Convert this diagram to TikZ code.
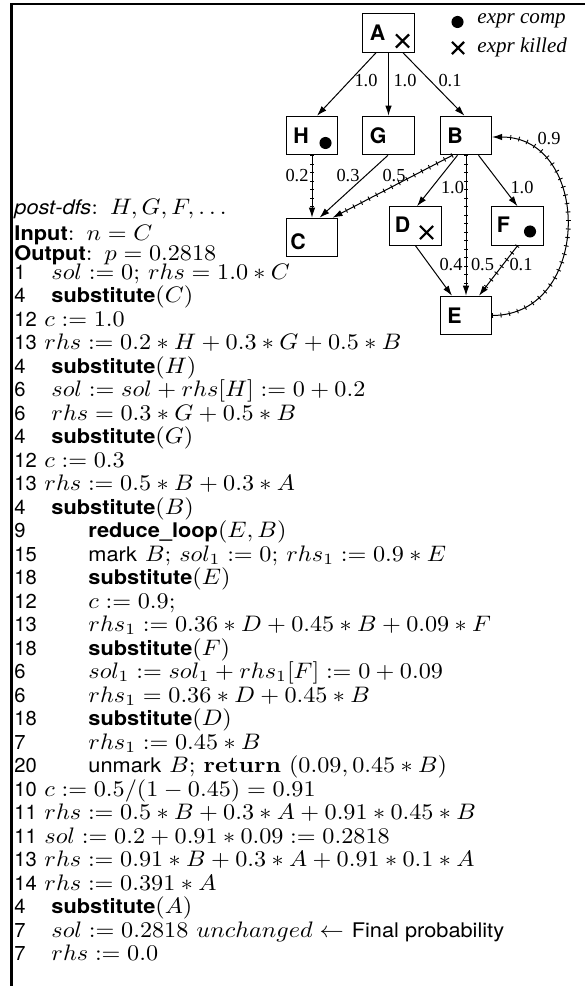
\documentclass[tikz,border=0pt]{standalone}
\usepackage{fontspec}
\usepackage{graphicx}
\setsansfont{TeX Gyre Heros}[Scale=0.9]
\newfontfamily\timesf{Liberation Serif}
\usetikzlibrary{arrows.meta,calc,shapes.misc}
\newcommand{\wx}[1]{\scalebox{1.08}[1]{#1}}
\begin{document}
\begin{tikzpicture}[x=0.4464pt,y=-0.4464pt,
  box/.style={draw, line width=0.45pt, minimum width=22.8pt, minimum height=17.2pt, inner sep=0pt},
  nlab/.style={font=\fontsize{10.6}{12}\selectfont\sffamily\bfseries, inner sep=0pt, anchor=west},
  elab/.style={font=\timesf\fontsize{8.2}{10}\selectfont, inner sep=0pt},
  leg/.style={font=\timesf\itshape\fontsize{9.4}{11}\selectfont, inner sep=0pt, anchor=west},
  arr/.style={line width=0.45pt, -{Latex[length=4.5pt,width=2.9pt]}},
  hatch/.style={arr, postaction={draw, -, line width=2.1pt, dash pattern=on 0.4pt off 3.4pt, shorten >=5pt}},
  kill/.style={cross out, draw, line width=0.95pt, inner sep=0pt, minimum size=4.9pt},
  comp/.style={circle, fill, inner sep=0pt, minimum size=5.4pt},
  tl/.style={anchor=base west, inner sep=0pt, font=\fontsize{10}{12}\selectfont},
]
\useasboundingbox (0,0) rectangle (585,986);
% frame
\draw[line width=0.9pt] (11.5,986) -- (11.5,4) -- (585,4);

% graph nodes
\node[box] (A) at (388.5,33) {};
\node[box] (H) at (312,135.5) {};
\node[box] (G) at (388.5,135.5) {};
\node[box] (B) at (466,135.5) {};
\node[box] (C) at (312,237.5) {};
\node[box] (D) at (415.5,226) {};
\node[box] (F) at (517.5,226) {};
\node[box] (E) at (466,315.5) {};

\node[nlab] (lA) at ($(A.west)+(7,0)$) {A};
\node[nlab] (lH) at ($(H.west)+(7,0)$) {H};
\node[nlab] (lG) at ($(G.west)+(7,0)$) {G};
\node[nlab] (lB) at ($(B.west)+(7,0)$) {B};
\node[nlab] (lC) at ($(C.west)+(4,4)$) {C};
\node[nlab] (lD) at ($(D.west)+(5,-1.5)$) {D};
\node[nlab] (lF) at ($(F.west)+(5,-1)$) {F};
\node[nlab] (lE) at ($(E.west)+(7,0)$) {E};

\node[kill] (xA) at (402.5,41) {};
\node[comp] (dH) at (325.5,143) {};
\node[kill] (xD) at (426.5,232.5) {};
\node[comp] (dF) at (530,231.5) {};

% legend
\node[comp] (legc) at (457.5,22) {};
\node[leg] (legct) at (477,21) {expr comp};
\node[kill, minimum size=4.5pt] (legk) at (458,48) {};
\node[leg] (legkt) at (477,47) {expr killed};

% edges
\draw[arr] ($(A.south)+(-12.5,0)$) -- ($(H.north)+(5,0)$);
\draw[arr] (A.south) -- (G.north);
\draw[arr] ($(A.south)+(14.5,0)$) -- ($(B.north)+(-1.5,0)$);
\draw[hatch] (H.south) -- (C.north);
\draw[arr] ($(G.south)+(-0.5,0)$) -- ($(C.north)+(7.5,0)$);
\draw[hatch] ($(B.south)+(-13.5,0)$) -- ($(C.north)+(20.5,0)$);
\draw[arr] ($(B.south)+(-8.5,0)$) -- ($(D.north)+(1.5,0)$);
\draw[hatch] (B.south) -- (E.north);
\draw[arr] ($(B.south)+(12.5,0)$) -- (F.north);
\draw[arr] (D.south) -- ($(E.north)+(-14,0)$);
\draw[hatch] (F.south) -- ($(E.north)+(13,0)$);
\draw[hatch] (E.east) .. controls +(100,0) and +(100,0) .. ($(B.east)+(0,1.5)$);

% edge labels
\node[elab] (e1) at (366,81) {1.0};
\node[elab] (e2) at (405,81) {1.0};
\node[elab] (e3) at (450,81) {0.1};
\node[elab] (e4) at (297,175.5) {0.2};
\node[elab] (e5) at (348,175.5) {0.3};
\node[elab] (e6) at (394,175.5) {0.5};
\node[elab] (e7) at (452.5,188) {1.0};
\node[elab] (e8) at (522,188) {1.0};
\node[elab] (e9) at (451,265) {0.4};
\node[elab] (e10) at (482.5,265) {0.5};
\node[elab] (e11) at (521,265) {0.1};
\node[elab] (e12) at (549,139) {0.9};

% text
\node[tl] (t0) at (14,215) {\wx{\textsf{\itshape post-dfs}:\hspace{5pt}$H, G, F, \ldots$}};
\node[tl] (t1) at (14,241) {\wx{\textsf{\bfseries Input}:\hspace{5pt}$n = C$}};
\node[tl] (t2) at (14,260) {\wx{\textsf{\bfseries Output}:\hspace{5pt}$p = 0.2818$}};

\node[tl] (n0) at (14,279.0) {\textsf{1}};
\node[tl] (s0) at (51,279.0) {\wx{$sol := 0$; $rhs = 1.0 * C$}};
\node[tl] (n1) at (14,302.5) {\textsf{4}};
\node[tl] (s1) at (51,302.5) {\wx{\textsf{\bfseries substitute}$(C)$}};
\node[tl] (n2) at (14,326.0) {\textsf{12}};
\node[tl] (s2) at (44,326.0) {\wx{$c := 1.0$}};
\node[tl] (n3) at (14,349.5) {\textsf{13}};
\node[tl] (s3) at (44,349.5) {\wx{$rhs := 0.2*H + 0.3*G + 0.5*B$}};
\node[tl] (n4) at (14,373.0) {\textsf{4}};
\node[tl] (s4) at (51,373.0) {\wx{\textsf{\bfseries substitute}$(H)$}};
\node[tl] (n5) at (14,396.5) {\textsf{6}};
\node[tl] (s5) at (51,396.5) {\wx{$sol := sol + rhs[H] := 0 + 0.2$}};
\node[tl] (n6) at (14,420.0) {\textsf{6}};
\node[tl] (s6) at (51,420.0) {\wx{$rhs = 0.3*G + 0.5*B$}};
\node[tl] (n7) at (14,443.5) {\textsf{4}};
\node[tl] (s7) at (51,443.5) {\wx{\textsf{\bfseries substitute}$(G)$}};
\node[tl] (n8) at (14,467.0) {\textsf{12}};
\node[tl] (s8) at (44,467.0) {\wx{$c := 0.3$}};
\node[tl] (n9) at (14,490.5) {\textsf{13}};
\node[tl] (s9) at (44,490.5) {\wx{$rhs := 0.5*B + 0.3*A$}};
\node[tl] (n10) at (14,514.0) {\textsf{4}};
\node[tl] (s10) at (51,514.0) {\wx{\textsf{\bfseries substitute}$(B)$}};
\node[tl] (n11) at (14,537.5) {\textsf{9}};
\node[tl] (s11) at (88,537.5) {\wx{\textsf{\bfseries reduce\_loop}$(E, B)$}};
\node[tl] (n12) at (14,561.0) {\textsf{15}};
\node[tl] (s12) at (88,561.0) {\wx{\textsf{mark} $B$; $sol_1 := 0$; $rhs_1 := 0.9*E$}};
\node[tl] (n13) at (14,584.5) {\textsf{18}};
\node[tl] (s13) at (88,584.5) {\wx{\textsf{\bfseries substitute}$(E)$}};
\node[tl] (n14) at (14,608.0) {\textsf{12}};
\node[tl] (s14) at (88,608.0) {\wx{$c := 0.9;$}};
\node[tl] (n15) at (14,631.5) {\textsf{13}};
\node[tl] (s15) at (88,631.5) {\wx{$rhs_1 := 0.36*D + 0.45*B + 0.09*F$}};
\node[tl] (n16) at (14,655.0) {\textsf{18}};
\node[tl] (s16) at (88,655.0) {\wx{\textsf{\bfseries substitute}$(F)$}};
\node[tl] (n17) at (14,678.5) {\textsf{6}};
\node[tl] (s17) at (88,678.5) {\wx{$sol_1 := sol_1 + rhs_1[F] := 0 + 0.09$}};
\node[tl] (n18) at (14,702.0) {\textsf{6}};
\node[tl] (s18) at (88,702.0) {\wx{$rhs_1 = 0.36*D + 0.45*B$}};
\node[tl] (n19) at (14,725.5) {\textsf{18}};
\node[tl] (s19) at (88,725.5) {\wx{\textsf{\bfseries substitute}$(D)$}};
\node[tl] (n20) at (14,749.0) {\textsf{7}};
\node[tl] (s20) at (88,749.0) {\wx{$rhs_1 := 0.45*B$}};
\node[tl] (n21) at (14,772.5) {\textsf{20}};
\node[tl] (s21) at (88,772.5) {\wx{\textsf{unmark} $B$; \textbf{return} $(0.09, 0.45*B)$}};
\node[tl] (n22) at (14,796.0) {\textsf{10}};
\node[tl] (s22) at (44,796.0) {\wx{$c := 0.5/(1-0.45) = 0.91$}};
\node[tl] (n23) at (14,819.5) {\textsf{11}};
\node[tl] (s23) at (44,819.5) {\wx{$rhs := 0.5*B + 0.3*A + 0.91*0.45*B$}};
\node[tl] (n24) at (14,843.0) {\textsf{11}};
\node[tl] (s24) at (44,843.0) {\wx{$sol := 0.2 + 0.91*0.09 := 0.2818$}};
\node[tl] (n25) at (14,866.5) {\textsf{13}};
\node[tl] (s25) at (44,866.5) {\wx{$rhs := 0.91*B + 0.3*A + 0.91*0.1*A$}};
\node[tl] (n26) at (14,890.0) {\textsf{14}};
\node[tl] (s26) at (44,890.0) {\wx{$rhs := 0.391*A$}};
\node[tl] (n27) at (14,913.5) {\textsf{4}};
\node[tl] (s27) at (51,913.5) {\wx{\textsf{\bfseries substitute}$(A)$}};
\node[tl] (n28) at (14,937.0) {\textsf{7}};
\node[tl] (s28) at (51,937.0) {\wx{$sol := 0.2818\ unchanged \leftarrow$ \textsf{Final probability}}};
\node[tl] (n29) at (14,960.5) {\textsf{7}};
\node[tl] (s29) at (51,960.5) {\wx{$rhs := 0.0$}};
\end{tikzpicture}
\end{document}
